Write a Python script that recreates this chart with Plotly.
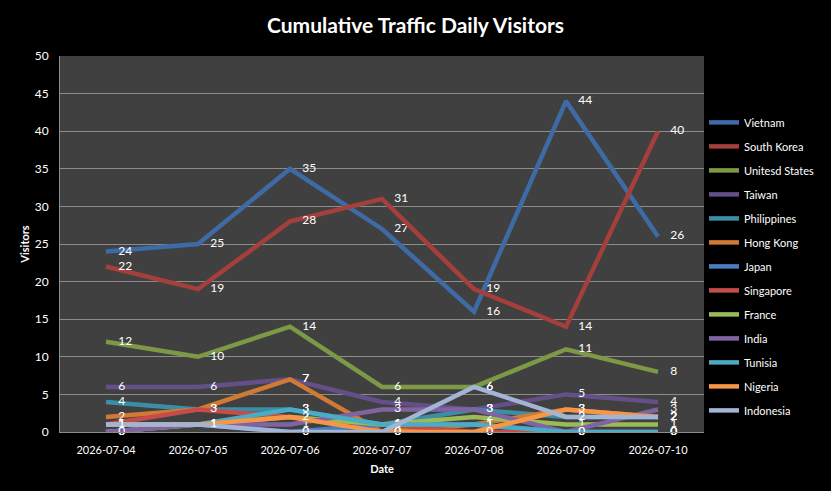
import plotly.graph_objects as go

dates = ["2026-07-04", "2026-07-05", "2026-07-06", "2026-07-07", "2026-07-08", "2026-07-09", "2026-07-10"]

vietnam = [24, 25, 35, 27, 16, 44, 26]
south_korea = [22, 19, 28, 31, 19, 14, 40]
united_states = [12, 10, 14, 6, 6, 11, 8]
taiwan = [6, 6, 7, 4, 3, 5, 4]
philippines = [4, 3, 3, 1, 3, 2, 2]
hong_kong = [2, 3, 7, 0, 1, 3, 2]
japan = [0, 1, 0, 1, 1, 0, 0]
singapore = [1, 3, 2, 1, 0, 0, 0]
france = [0, 1, 2, 1, 2, 1, 1]
india = [0, 1, 1, 3, 3, 0, 3]
tunisia = [1, 1, 3, 1, 1, 0, 0]
nigeria = [1, 1, 2, 0, 0, 3, 2]
indonesia = [1, 1, 0, 0, 6, 2, 2]

series = [
    ("Vietnam", vietnam, "#3E6BA5"),
    ("South Korea", south_korea, "#A43F3C"),
    ("Unitesd States", united_states, "#7D9946"),
    ("Taiwan", taiwan, "#654F88"),
    ("Philippines", philippines, "#3A8FA6"),
    ("Hong Kong", hong_kong, "#D07A35"),
    ("Japan", japan, "#4A7EC0"),
    ("Singapore", singapore, "#C44D4A"),
    ("France", france, "#9BBB59"),
    ("India", india, "#8064A2"),
    ("Tunisia", tunisia, "#4BACC6"),
    ("Nigeria", nigeria, "#F79646"),
    ("Indonesia", indonesia, "#A3B5D5"),
]

FONT = "Lato, 'Open Sans', sans-serif"

fig = go.Figure()
for name, vals, color in series:
    fig.add_trace(go.Scatter(
        x=dates, y=vals, name=name, mode="lines+markers+text",
        line=dict(color=color, width=4.5),
        marker=dict(size=18, color="rgba(0,0,0,0)"),
        text=[str(v) for v in vals], textposition="middle right",
        textfont=dict(color="white", size=12, family=FONT),
        legendgroup=name, cliponaxis=False,
    ))

fig.update_layout(
    width=831, height=491,
    paper_bgcolor="black", plot_bgcolor="#404040",
    margin=dict(l=60, r=123, t=56, b=59),
    title=dict(text="<b>Cumulative Traffic Daily Visitors</b>", x=0.5, xanchor="center",
               y=0.948, yanchor="middle", font=dict(color="white", size=21, family=FONT)),
    font=dict(family=FONT, color="white", size=11),
    showlegend=True,
    legend=dict(x=1.0, xanchor="left", y=0.862, yanchor="top", font=dict(color="white", size=11),
                bgcolor="rgba(0,0,0,0)", tracegroupgap=5, itemwidth=30),
    xaxis=dict(type="category", range=[-0.5, 6.5], showgrid=False, showline=True, linecolor="#8c8c8c",
               tickfont=dict(color="white", size=11), ticks="", ticklabelstandoff=8,
               title=dict(text="<b>Date</b>", font=dict(color="white", size=11), standoff=10)),
    yaxis=dict(range=[0, 50], dtick=5, showgrid=True, gridcolor="#8c8c8c", gridwidth=1,
               showline=True, linecolor="#8c8c8c", zeroline=False,
               tickfont=dict(color="white", size=12), ticks="", ticklabelstandoff=8,
               title=dict(text="<b>Visitors</b>", font=dict(color="white", size=11), standoff=2)),
)

fig.write_html("out.html")
